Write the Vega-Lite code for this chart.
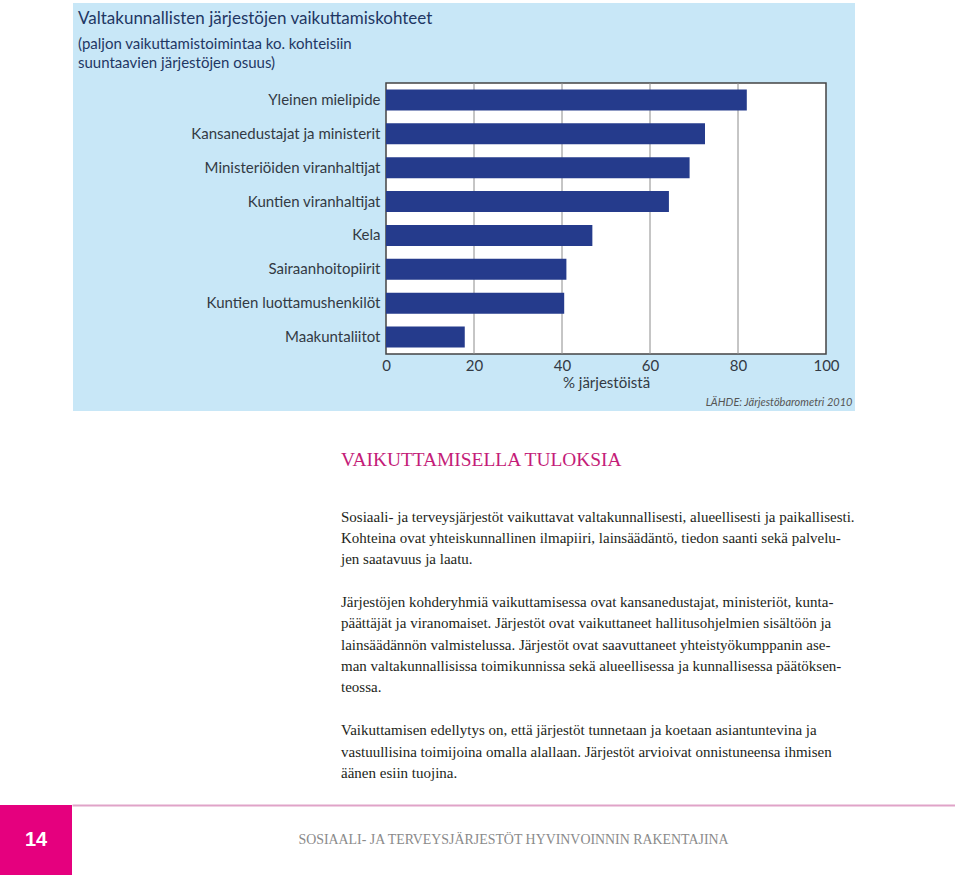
{
  "$schema": "https://vega.github.io/schema/vega-lite/v6.json",
  "padding": {"left": 0, "top": 3, "right": 0, "bottom": 0},
  "background": "white",
  "config": {"view": {"stroke": null}},
  "spacing": 38,
  "vconcat": [
    {
      "spacing": 0,
      "hconcat": [
        {"width": 73, "height": 408, "data": {"values": []}, "mark": {"type": "point", "opacity": 0}},
        {
          "width": 782,
          "height": 408,
          "view": {"fill": "#c8e7f7", "stroke": null},
          "title": {
            "text": "Valtakunnallisten järjestöjen vaikuttamiskohteet",
            "subtitle": ["(paljon vaikuttamistoimintaa ko. kohteisiin", "suuntaavien järjestöjen osuus)"],
            "anchor": "start",
            "frame": "group",
            "offset": -69,
            "dx": 5,
            "font": "Lato",
            "fontSize": 17,
            "fontWeight": "normal",
            "color": "#1f3764",
            "subtitleFont": "Lato",
            "subtitleFontSize": 15,
            "subtitleColor": "#1f3764",
            "subtitleLineHeight": 19,
            "subtitlePadding": 9
          },
          "data": {
            "values": [
              {"kohde": "Yleinen mielipide", "osuus": 82.0},
              {"kohde": "Kansanedustajat ja ministerit", "osuus": 72.5},
              {"kohde": "Ministeriöiden viranhaltijat", "osuus": 69.0},
              {"kohde": "Kuntien viranhaltijat", "osuus": 64.3},
              {"kohde": "Kela", "osuus": 46.9},
              {"kohde": "Sairaanhoitopiirit", "osuus": 41.0},
              {"kohde": "Kuntien luottamushenkilöt", "osuus": 40.5},
              {"kohde": "Maakuntaliitot", "osuus": 17.9}
            ]
          },
          "layer": [
            {
              "data": {"values": [{}]},
              "mark": {"type": "rect", "fill": "white", "stroke": "#444444", "strokeWidth": 1.5},
              "encoding": {
                "x": {"datum": 0, "type": "quantitative", "axis": null},
                "x2": {"datum": 100},
                "y": {"datum": 0, "type": "quantitative", "scale": {"domain": [0, 1], "range": [351, 80], "nice": false, "zero": false}, "axis": null},
                "y2": {"datum": 1}
              }
            },
            {
              "data": {"values": [{"v": 20}, {"v": 40}, {"v": 60}, {"v": 80}]},
              "mark": {"type": "rule", "color": "#8c8c8c", "strokeWidth": 1},
              "encoding": {
                "x": {
                  "field": "v",
                  "type": "quantitative",
                  "axis": {
                    "orient": "bottom",
                    "offset": 0,
                    "labels": false,
                    "ticks": false,
                    "domain": false,
                    "grid": false,
                    "title": "LÄHDE: Järjestöbarometri 2010",
                    "titleFont": "Lato",
                    "titleFontStyle": "italic",
                    "titleFontWeight": "normal",
                    "titleFontSize": 11,
                    "titleColor": "#555555",
                    "titleAlign": "right",
                    "titleBaseline": "alphabetic",
                    "titleX": 779,
                    "titleY": -6
                  }
                },
                "y": {"datum": 0, "type": "quantitative", "scale": {"domain": [0, 1], "range": [351, 80], "nice": false, "zero": false}, "axis": null},
                "y2": {"datum": 1}
              }
            },
            {
              "mark": {"type": "bar", "color": "#253b8c"},
              "encoding": {
                "y": {
                  "field": "kohde",
                  "type": "nominal",
                  "sort": null,
                  "scale": {"range": [80, 351], "paddingInner": 0.38, "paddingOuter": 0.19},
                  "axis": {
                    "orient": "left",
                    "offset": -313,
                    "domain": false,
                    "ticks": false,
                    "grid": false,
                    "title": null,
                    "labelFont": "Lato",
                    "labelFontSize": 15,
                    "labelColor": "#333a44",
                    "labelPadding": 6,
                    "labelLimit": 300
                  }
                },
                "x": {
                  "field": "osuus",
                  "type": "quantitative",
                  "scale": {"domain": [0, 100], "range": [313, 753], "nice": false},
                  "axis": {
                    "orient": "bottom",
                    "offset": -57,
                    "values": [0, 20, 40, 60, 80, 100],
                    "domain": false,
                    "ticks": false,
                    "grid": false,
                    "labelFlush": false,
                    "labelFont": "Lato",
                    "labelFontSize": 15,
                    "labelColor": "#333a44",
                    "labelPadding": 4,
                    "title": "% järjestöistä",
                    "titleFont": "Lato",
                    "titleFontSize": 15,
                    "titleFontWeight": "normal",
                    "titleColor": "#333a44",
                    "titlePadding": 2
                  }
                }
              }
            }
          ],
          "resolve": {"scale": {"y": "independent"}, "axis": {"x": "independent"}}
        }
      ]
    },
    {
      "spacing": 21,
      "vconcat": [
        {
          "spacing": 0,
          "hconcat": [
            {"width": 341, "height": 10, "data": {"values": []}, "mark": {"type": "point", "opacity": 0}},
            {
              "width": 514,
              "height": 277.55,
              "title": {
                "text": "VAIKUTTAMISELLA TULOKSIA",
                "anchor": "start",
                "frame": "group",
                "font": "Liberation Serif",
                "fontSize": 19.4,
                "fontWeight": "normal",
                "color": "#c41c78",
                "baseline": "alphabetic",
                "offset": 21
              },
              "data": {
                "values": [
                  {"line": 0, "text": "Sosiaali- ja terveysjärjestöt vaikuttavat valtakunnallisesti, alueellisesti ja paikallisesti."},
                  {"line": 1, "text": "Kohteina ovat yhteiskunnallinen ilmapiiri, lainsäädäntö, tiedon saanti sekä palvelu-"},
                  {"line": 2, "text": "jen saatavuus ja laatu."},
                  {"line": 4, "text": "Järjestöjen kohderyhmiä vaikuttamisessa ovat kansanedustajat, ministeriöt, kunta-"},
                  {"line": 5, "text": "päättäjät ja viranomaiset. Järjestöt ovat vaikuttaneet hallitusohjelmien sisältöön ja"},
                  {"line": 6, "text": "lainsäädännön valmistelussa. Järjestöt ovat saavuttaneet yhteistyökumppanin ase-"},
                  {"line": 7, "text": "man valtakunnallisissa toimikunnissa sekä alueellisessa ja kunnallisessa päätöksen-"},
                  {"line": 8, "text": "teossa."},
                  {"line": 10, "text": "Vaikuttamisen edellytys on, että järjestöt tunnetaan ja koetaan asiantuntevina ja"},
                  {"line": 11, "text": "vastuullisina toimijoina omalla alallaan. Järjestöt arvioivat onnistuneensa ihmisen"},
                  {"line": 12, "text": "äänen esiin tuojina."}
                ]
              },
              "mark": {"type": "text", "align": "left", "baseline": "middle", "font": "Liberation Serif", "fontSize": 15.0, "color": "#231f20"},
              "encoding": {
                "x": {"datum": 0, "type": "quantitative", "scale": {"domain": [0, 1]}, "axis": null},
                "y": {"field": "line", "type": "quantitative", "scale": {"domain": [-0.5, 12.5], "reverse": true, "nice": false, "zero": false}, "axis": null},
                "text": {"field": "text"}
              }
            }
          ]
        },
        {
          "spacing": 0,
          "hconcat": [
            {
              "width": 72,
              "height": 70,
              "view": {"fill": "#e5007e", "stroke": null},
              "data": {"values": [{"sivu": "14"}]},
              "mark": {"type": "text", "font": "Liberation Sans", "fontWeight": "bold", "fontSize": 20, "color": "white", "align": "center", "baseline": "middle"},
              "encoding": {"text": {"field": "sivu"}}
            },
            {
              "width": 883,
              "height": 70,
              "data": {"values": [{"teksti": "SOSIAALI- JA TERVEYSJÄRJESTÖT HYVINVOINNIN RAKENTAJINA"}]},
              "mark": {"type": "text", "font": "Liberation Serif", "fontSize": 13.9, "color": "#8a8a8a", "align": "center", "baseline": "middle"},
              "encoding": {
                "text": {"field": "teksti"},
                "x": {
                  "datum": 0.5,
                  "type": "quantitative",
                  "scale": {"domain": [0, 1]},
                  "axis": {"orient": "top", "domain": true, "domainColor": "#e0a3c8", "domainWidth": 2, "ticks": false, "labels": false, "grid": false, "title": null}
                }
              }
            }
          ]
        }
      ]
    }
  ]
}
